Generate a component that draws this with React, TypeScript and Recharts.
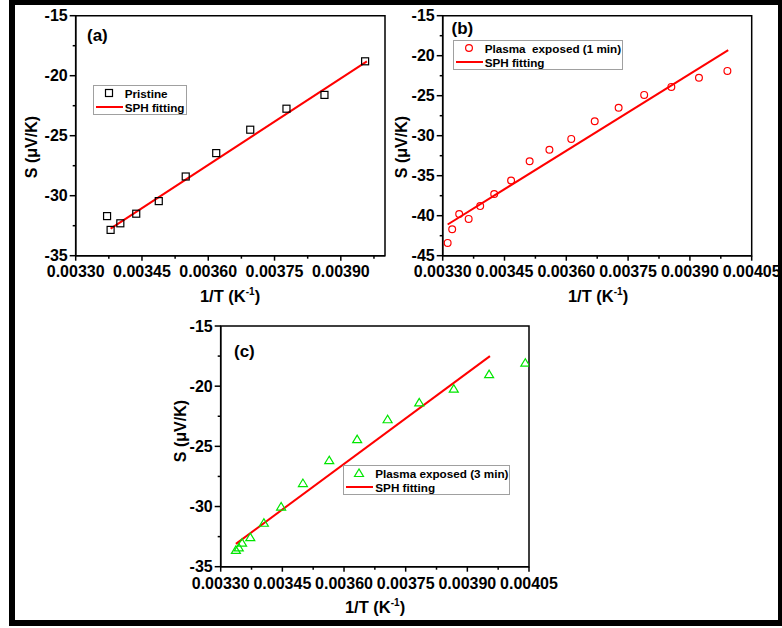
import React from "react";
import { ComposedChart, Scatter, Line, XAxis, YAxis, Legend, ReferenceArea } from "recharts";

const FONT = '"Liberation Sans", Arial, Helvetica, sans-serif';

// (a) pristine
const invTA = [0.003371, 0.003379, 0.003401, 0.003437, 0.003488, 0.003549, 0.003618, 0.003695, 0.003777, 0.003863, 0.003955];
const sA = [-31.7, -32.85, -32.3, -31.5, -30.45, -28.4, -26.45, -24.5, -22.75, -21.6, -18.8];
const fitXA = [0.003379, 0.003959];
const fitYA = [-32.75, -18.8];

// (b) plasma exposed 1 min
const invTB = [0.003312, 0.003323, 0.00334, 0.003363, 0.003391, 0.003425, 0.003466, 0.003511, 0.003559, 0.003612, 0.003669, 0.003727, 0.003789, 0.003855, 0.003922, 0.003991];
const sB = [-43.4, -41.7, -39.8, -40.4, -38.8, -37.3, -35.6, -33.2, -31.75, -30.4, -28.2, -26.5, -24.9, -23.9, -22.75, -21.9];
const fitXB = [0.003312, 0.003993];
const fitYB = [-41.1, -19.3];

// (c) plasma exposed 3 min
const invTC = [0.003337, 0.003344, 0.003352, 0.003372, 0.003405, 0.003447, 0.0035, 0.003564, 0.003632, 0.003706, 0.003783, 0.003867, 0.003953, 0.004041];
const sC = [-33.6, -33.4, -33.0, -32.55, -31.35, -30.0, -28.05, -26.15, -24.4, -22.75, -21.35, -20.2, -19.0, -18.05];
const fitXC = [0.003337, 0.003955];
const fitYC = [-33.1, -17.5];

// ticks
const xTicksA = [0.0033, 0.003375, 0.00345, 0.003525, 0.0036, 0.003675, 0.00375, 0.003825, 0.0039, 0.003975];
const xTicksBC = [0.0033, 0.003375, 0.00345, 0.003525, 0.0036, 0.003675, 0.00375, 0.003825, 0.0039, 0.003975, 0.00405];
const xLabels = ["0.00330", "0.00345", "0.00360", "0.00375", "0.00390", "0.00405"];
const yTicksAC = [-35, -32.5, -30, -27.5, -25, -22.5, -20, -17.5, -15];
const yTicksB = [-45, -42.5, -40, -37.5, -35, -32.5, -30, -27.5, -25, -22.5, -20, -17.5, -15];
const yLabels = ["-45", "-40", "-35", "-30", "-25", "-20", "-15"];

type Pt = { x: number; y: number };
const zip = (xs: number[], ys: number[]): Pt[] => xs.map((x, i) => ({ x, y: ys[i] }));

const XTick = (props: any) => {
  const { x, y, payload, gap } = props;
  const txt = Number(payload.value).toFixed(5);
  const major = xLabels.includes(txt);
  return (
    <g>
      <line x1={x} y1={y} x2={x} y2={y + (major ? 5 : 3)} stroke="#000" strokeWidth={1.5} />
      {major && (
        <text x={x} y={y + gap} textAnchor="middle" fontSize={16} fontWeight="bold" fill="#000" fontFamily={FONT}>
          {txt}
        </text>
      )}
    </g>
  );
};

const YTick = (props: any) => {
  const { x, y, payload } = props;
  const txt = String(payload.value);
  const major = yLabels.includes(txt);
  return (
    <g>
      <line x1={x - (major ? 6 : 3)} y1={y} x2={x} y2={y} stroke="#000" strokeWidth={1.5} />
      {major && (
        <text x={x - 8} y={y} dy="0.36em" textAnchor="end" fontSize={16} fontWeight="bold" fill="#000" fontFamily={FONT}>
          {txt}
        </text>
      )}
    </g>
  );
};

const Square = (p: any) => <rect x={p.cx - 3.5} y={p.cy - 3.5} width={7} height={7} fill="none" stroke="#000" strokeWidth={1.2} />;
const Circle = (p: any) => <circle cx={p.cx} cy={p.cy} r={3.4} fill="none" stroke="#ff0000" strokeWidth={1.2} />;
const Tri = (p: any) => (
  <polygon
    points={`${p.cx},${p.cy - 4} ${p.cx - 4.5},${p.cy + 3.5} ${p.cx + 4.5},${p.cy + 3.5}`}
    fill="none"
    stroke="#00e600"
    strokeWidth={1.2}
  />
);

const LegendBox = ({ label, Marker, width }: any) => (
  <div
    style={{
      width,
      height: 30,
      boxSizing: "border-box",
      border: "1px solid #a0a0a0",
      background: "#fff",
      fontFamily: FONT,
      fontWeight: "bold",
      fontSize: 11.7,
      color: "#000",
      whiteSpace: "pre",
    }}
  >
    <div style={{ display: "flex", alignItems: "center", height: 14 }}>
      <svg width={30} height={14}>
        <Marker cx={15} cy={7} />
      </svg>
      <span style={{ marginLeft: 1 }}>{label}</span>
    </div>
    <div style={{ display: "flex", alignItems: "center", height: 14 }}>
      <svg width={30} height={14}>
        <line x1={2} y1={7} x2={29} y2={7} stroke="#ff0000" strokeWidth={2} />
      </svg>
      <span style={{ marginLeft: 1 }}>SPH fitting</span>
    </div>
  </div>
);

const Panel = (c: any) => (
  <div style={{ position: "absolute", left: c.left, top: c.top }}>
    <ComposedChart width={c.width} height={c.height} margin={c.margin}>
      <XAxis
        type="number"
        dataKey="x"
        domain={c.xDomain}
        ticks={c.xTicks}
        interval={0}
        allowDataOverflow
        height={c.xAxisHeight}
        tickSize={0}
        tickMargin={0}
        tickLine={false}
        axisLine={{ stroke: "#000", strokeWidth: 1.5 }}
        tick={(p: any) => <XTick {...p} gap={c.xGap} />}
      />
      <YAxis
        type="number"
        dataKey="y"
        domain={c.yDomain}
        ticks={c.yTicks}
        interval={0}
        allowDataOverflow
        width={c.yAxisWidth}
        tickSize={0}
        tickMargin={0}
        tickLine={false}
        axisLine={{ stroke: "#000", strokeWidth: 1.5 }}
        tick={(p: any) => <YTick {...p} />}
      />
      <ReferenceArea
        x1={c.xDomain[0]}
        x2={c.xDomain[1]}
        y1={c.yDomain[0]}
        y2={c.yDomain[1]}
        fill="none"
        stroke="#000"
        strokeWidth={1.5}
        ifOverflow="visible"
      />
      <Scatter data={c.points} shape={c.marker} isAnimationActive={false} />
      <Line data={c.fit} dataKey="y" type="linear" stroke="#ff0000" strokeWidth={2} dot={false} isAnimationActive={false} />
      <Legend
        layout="vertical"
        align="center"
        verticalAlign="middle"
        wrapperStyle={{ left: c.legendLeft, top: c.legendTop }}
        content={() => <LegendBox label={c.legendLabel} Marker={c.marker} width={c.legendWidth} />}
      />
    </ComposedChart>
  </div>
);

const XTitle = ({ x, y }: { x: number; y: number }) => (
  <text x={x} y={y} textAnchor="middle" fontSize={16.5} fontWeight="bold" fontFamily={FONT} fill="#000">
    1/T (K
    <tspan fontSize={10} dy={-7}>-1</tspan>
    <tspan dy={7}>)</tspan>
  </text>
);

const YTitle = ({ x, y }: { x: number; y: number }) => (
  <text x={x} y={y} transform={`rotate(-90 ${x} ${y})`} textAnchor="middle" fontSize={16} fontWeight="bold" fontFamily={FONT} fill="#000">
    S (μV/K)
  </text>
);

const PanelTag = ({ x, y, t }: { x: number; y: number; t: string }) => (
  <text x={x} y={y} fontSize={17} fontWeight="bold" fontFamily={FONT} fill="#000">
    {t}
  </text>
);

export default function App() {
  return (
    <div style={{ position: "absolute", left: 0, top: 0, width: 782, height: 628, background: "#fff", overflow: "hidden" }}>
      <Panel
        left={0}
        top={0}
        width={400}
        height={320}
        margin={{ top: 15.7, right: 15, left: 0, bottom: 0 }}
        yAxisWidth={75.7}
        xAxisHeight={64.3}
        xDomain={[0.0033, 0.004]}
        yDomain={[-35, -15]}
        xTicks={xTicksA}
        yTicks={yTicksAC}
        xGap={21}
        points={zip(invTA, sA)}
        fit={zip(fitXA, fitYA)}
        marker={Square}
        legendLabel="Pristine"
        legendLeft={92.7}
        legendTop={85}
        legendWidth={94}
      />
      <Panel
        left={390}
        top={0}
        width={392}
        height={320}
        margin={{ top: 15.7, right: 30.3, left: 0, bottom: 0 }}
        yAxisWidth={52.7}
        xAxisHeight={64.3}
        xDomain={[0.0033, 0.00405]}
        yDomain={[-45, -15]}
        xTicks={xTicksBC}
        yTicks={yTicksB}
        xGap={21}
        points={zip(invTB, sB)}
        fit={zip(fitXB, fitYB)}
        marker={Circle}
        legendLabel="Plasma  exposed (1 min)"
        legendLeft={62.7}
        legendTop={40}
        legendWidth={170}
      />
      <Panel
        left={170}
        top={310}
        width={400}
        height={310}
        margin={{ top: 16, right: 41, left: 0, bottom: 0 }}
        yAxisWidth={50.7}
        xAxisHeight={53.3}
        xDomain={[0.0033, 0.00405]}
        yDomain={[-35, -15]}
        xTicks={xTicksBC}
        yTicks={yTicksAC}
        xGap={22.5}
        points={zip(invTC, sC)}
        fit={zip(fitXC, fitYC)}
        marker={Tri}
        legendLabel="Plasma exposed (3 min)"
        legendLeft={173.3}
        legendTop={155}
        legendWidth={167}
      />
      <svg width={782} height={628} style={{ position: "absolute", left: 0, top: 0, pointerEvents: "none" }}>
        <XTitle x={230} y={302} />
        <XTitle x={598} y={302} />
        <XTitle x={375} y={613} />
        <YTitle x={37} y={147} />
        <YTitle x={407} y={147} />
        <YTitle x={186} y={431} />
        <PanelTag x={87} y={41} t="(a)" />
        <PanelTag x={451.5} y={34} t="(b)" />
        <PanelTag x={234} y={357} t="(c)" />
      </svg>
      <div
        style={{
          position: "absolute",
          left: 9,
          top: 0,
          width: 773,
          height: 626,
          boxSizing: "border-box",
          borderTop: "5px solid #000",
          borderLeft: "6px solid #000",
          borderBottom: "6px solid #000",
          borderRight: "4px solid #000",
          pointerEvents: "none",
        }}
      />
    </div>
  );
}
